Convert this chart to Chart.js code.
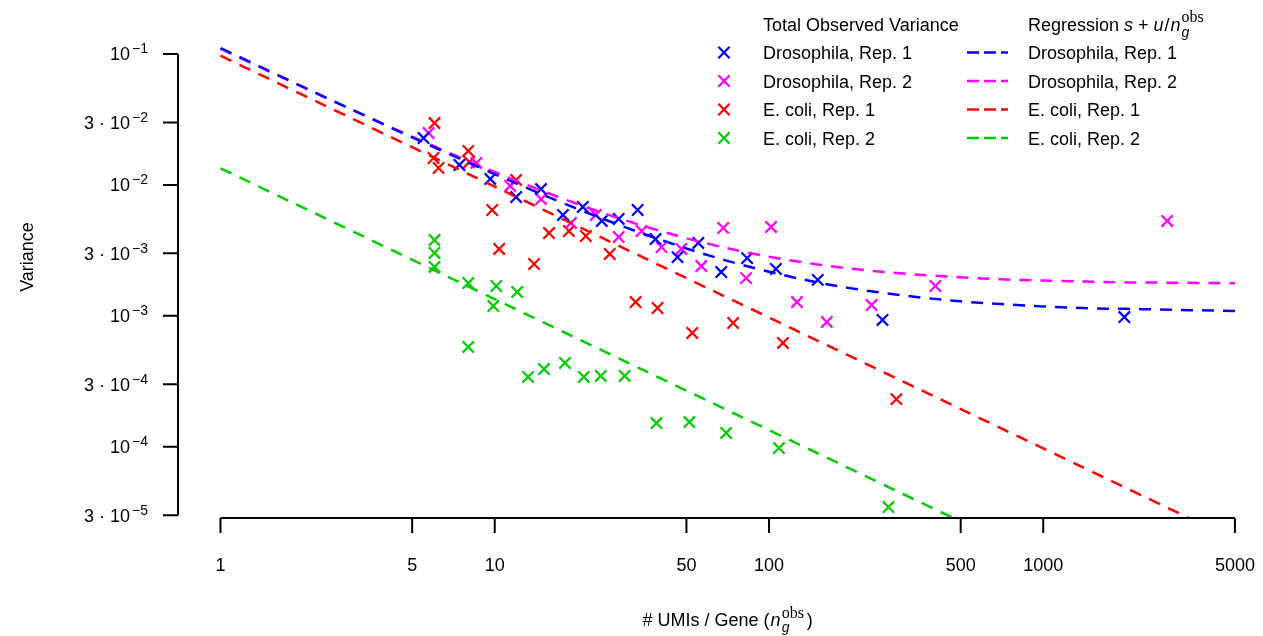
<!DOCTYPE html>
<html><head><meta charset="utf-8">
<script src="https://cdn.jsdelivr.net/npm/chart.js@4.4.1/dist/chart.umd.min.js"></script>
<style>html,body{margin:0;padding:0;background:#fff;}canvas{display:block;}</style>
</head><body>
<canvas id="c" width="1263" height="636"></canvas>
<script>
// ---- observed variance ----
const droso1N = [5.50, 7.43, 9.63, 11.97, 14.75, 17.73, 20.95, 24.56, 28.31, 33.19, 38.57, 46.37, 55.25, 66.96, 83.2, 106.0, 150.6, 259.3, 1976];
const droso1V = [0.0228, 0.0142, 0.0111, 0.00808, 0.0093, 0.00589, 0.00678, 0.0053, 0.00549, 0.00643, 0.00386, 0.00281, 0.0036, 0.00216, 0.00276, 0.00228, 0.00188, 0.000929, 0.000979];
const droso2N = [5.74, 8.57, 11.38, 14.75, 18.95, 23.35, 28.31, 34.31, 40.55, 47.92, 56.65, 68.08, 82.5, 101.7, 126.4, 162.4, 236.5, 403.9, 2831];
const droso2V = [0.0249, 0.0147, 0.00981, 0.0078, 0.00512, 0.00589, 0.004, 0.00444, 0.00335, 0.00324, 0.0024, 0.00469, 0.00194, 0.00477, 0.001274, 0.000897, 0.001209, 0.001689, 0.0053];
const ecoli1N = [6.03, 5.98, 6.24, 8.01, 8.08, 11.97, 9.79, 10.38, 13.91, 15.77, 18.64, 21.48, 26.26, 32.63, 39.22, 52.54, 74.0, 112.4, 291.4];
const ecoli1V = [0.0297, 0.01605, 0.01346, 0.01816, 0.01496, 0.0109, 0.00643, 0.00324, 0.002487, 0.00429, 0.00444, 0.00407, 0.002966, 0.001274, 0.001147, 0.000739, 0.000881, 0.00062, 0.000231];
const ecoli2N = [6.03, 6.03, 6.03, 8.01, 8.01, 10.13, 9.88, 12.07, 13.23, 15.12, 18.03, 21.13, 24.35, 29.77, 38.89, 51.24, 69.81, 108.7, 272.7];
const ecoli2V = [0.00379, 0.00302, 0.00236, 0.00178, 0.000578, 0.001689, 0.001188, 0.00152, 0.000341, 0.000392, 0.000436, 0.000341, 0.000347, 0.000347, 0.0001517, 0.0001544, 0.0001273, 0.0000977, 0.0000346];

// ---- regression curves ----
const regN = [1, 2, 3, 5, 7, 10, 15, 20, 30, 50, 70, 100, 150, 200, 300, 500, 700, 1000, 1500, 2000, 3000, 5000];
const regDroso1 = [0.1111, 0.05607, 0.03774, 0.02307, 0.01678, 0.01207, 0.0084, 0.00657, 0.00474, 0.00327, 0.00264, 0.00217, 0.0018, 0.00162, 0.00144, 0.00129, 0.00123, 0.00118, 0.00114, 0.00113, 0.00111, 0.00109];
const regDroso2 = [0.10975, 0.05575, 0.03775, 0.02335, 0.01718, 0.01255, 0.00895, 0.00715, 0.00535, 0.00391, 0.00329, 0.00283, 0.00247, 0.00229, 0.00211, 0.00197, 0.0019, 0.00186, 0.00182, 0.0018, 0.00179, 0.00177];
const regEcoli1 = [0.097, 0.0485, 0.03233, 0.0194, 0.01386, 0.0097, 0.006467, 0.00485, 0.003233, 0.00194, 0.001386, 0.00097, 0.0006467, 0.000485, 0.0003233, 0.000194, 0.0001386, 0.000097, 0.00006467, 0.0000485, 0.00003233, 0.0000194];
const regEcoli2 = [0.0134, 0.0067, 0.004467, 0.00268, 0.001914, 0.00134, 0.000893, 0.00067, 0.0004467, 0.000268, 0.0001914, 0.000134, 0.0000893, 0.000067, 0.00004467, 0.0000268, 0.00001914, 0.0000134, 0.00000893, 0.0000067, 0.000004467, 0.00000268];

// ---- ticks ----
const xTicks = [1, 5, 10, 50, 100, 500, 1000, 5000];
const xTickLabels = ['1', '5', '10', '50', '100', '500', '1000', '5000'];
const yTicks = [1e-1, 3e-2, 1e-2, 3e-3, 1e-3, 3e-4, 1e-4, 3e-5];
const yTickMant = ['', '3', '', '3', '', '3', '', '3'];
const yTickExp = ['\u22121', '\u22122', '\u22122', '\u22123', '\u22123', '\u22124', '\u22124', '\u22125'];

const seriesNames = ['Drosophila, Rep. 1', 'Drosophila, Rep. 2', 'E. coli, Rep. 1', 'E. coli, Rep. 2'];
const colors = ['#0000FF', '#FF00FF', '#FF0000', '#00CD00'];

const SANS = '"Liberation Sans", Arial, Helvetica, sans-serif';
const SERIF = '"Liberation Serif", "DejaVu Serif", serif';
const BASE = '18px ' + SANS;
const SUP = '14px ' + SANS;

const pts = (xs, ys) => xs.map((x, i) => ({x: x, y: ys[i]}));
const obsSets = [[droso1N, droso1V], [droso2N, droso2V], [ecoli1N, ecoli1V], [ecoli2N, ecoli2V]];
const regSets = [regDroso1, regDroso2, regEcoli1, regEcoli2];

const datasets = [];
regSets.forEach((r, i) => datasets.push({
  label: 'Regression ' + seriesNames[i], data: pts(regN, r), showLine: true,
  borderColor: colors[i], borderWidth: 2.5, borderDash: [12, 9], pointRadius: 0,
  fill: false, cubicInterpolationMode: 'monotone'
}));
obsSets.forEach((s, i) => datasets.push({
  label: seriesNames[i], data: pts(s[0], s[1]), showLine: false,
  pointStyle: 'crossRot', pointRadius: 8, pointBorderWidth: 2.2,
  borderColor: colors[i], backgroundColor: colors[i]
}));

function drawParts(ctx, parts, x, y, align) {
  let w = 0;
  parts.forEach(p => { ctx.font = p.f; p.w = ctx.measureText(p.t).width + (p.dx || 0); if (!p.na) w += p.w; });
  let cx = align === 'right' ? x - w : (align === 'center' ? x - w / 2 : x);
  ctx.textAlign = 'left'; ctx.textBaseline = 'alphabetic';
  parts.forEach(p => { ctx.font = p.f; ctx.fillText(p.t, cx + (p.dx || 0), y + (p.dy || 0)); if (!p.na) cx += p.w; });
}

const decor = {
  id: 'decor',
  afterDraw(chart) {
    const ctx = chart.ctx, xs = chart.scales.x, ys = chart.scales.y, ca = chart.chartArea;
    ctx.save();
    ctx.strokeStyle = '#000'; ctx.fillStyle = '#000'; ctx.lineWidth = 2; ctx.setLineDash([]);
    // y axis
    const ax = ca.left;
    ctx.beginPath();
    ctx.moveTo(ax, ys.getPixelForValue(yTicks[0]));
    ctx.lineTo(ax, ys.getPixelForValue(yTicks[yTicks.length - 1]));
    yTicks.forEach(v => { const p = ys.getPixelForValue(v); ctx.moveTo(ax - 15, p); ctx.lineTo(ax, p); });
    ctx.stroke();
    yTicks.forEach((v, i) => {
      const p = ys.getPixelForValue(v);
      const parts = [];
      if (yTickMant[i]) parts.push({t: yTickMant[i] + ' \u00B7 ', f: BASE, dx: 1});
      parts.push({t: '10', f: BASE});
      parts.push({t: yTickExp[i], f: SUP, dy: -7, dx: 2});
      drawParts(ctx, parts, 148, p + 6.5, 'right');
    });
    // x axis
    const ay = ca.bottom + 1;
    ctx.beginPath();
    ctx.moveTo(xs.getPixelForValue(xTicks[0]), ay);
    ctx.lineTo(xs.getPixelForValue(xTicks[xTicks.length - 1]), ay);
    xTicks.forEach(v => { const p = xs.getPixelForValue(v); ctx.moveTo(p, ay); ctx.lineTo(p, ay + 15); });
    ctx.stroke();
    ctx.font = BASE; ctx.textAlign = 'center'; ctx.textBaseline = 'alphabetic';
    xTicks.forEach((v, i) => ctx.fillText(xTickLabels[i], xs.getPixelForValue(v), 571));
    // x title
    const xc = (xs.getPixelForValue(xTicks[0]) + xs.getPixelForValue(xTicks[xTicks.length - 1])) / 2;
    drawParts(ctx, [
      {t: '# UMIs / Gene (', f: BASE},
      {t: 'n', f: 'italic ' + BASE, dx: 1},
      {t: 'g', f: 'italic ' + SUP, dy: 6, na: true, dx: 1},
      {t: 'obs', f: '16px ' + SERIF, dy: -8, dx: 1},
      {t: ')', f: BASE, dx: 3}
    ], xc, 626, 'center');
    // y title
    ctx.save();
    ctx.translate(33, 257); ctx.rotate(-Math.PI / 2);
    ctx.font = BASE; ctx.textAlign = 'center'; ctx.textBaseline = 'alphabetic';
    ctx.fillText('Variance', 0, 0);
    ctx.restore();
    // legend
    ctx.font = BASE; ctx.textAlign = 'left';
    ctx.fillText('Total Observed Variance', 763, 31);
    drawParts(ctx, [
      {t: 'Regression ', f: BASE},
      {t: 's', f: 'italic ' + BASE},
      {t: ' + ', f: BASE},
      {t: 'u', f: 'italic ' + BASE},
      {t: '/', f: BASE, dx: 1},
      {t: 'n', f: 'italic ' + BASE, dx: 1},
      {t: 'g', f: 'italic ' + SUP, dy: 6, na: true, dx: 1},
      {t: 'obs', f: '16px ' + SERIF, dy: -9, dx: 1}
    ], 1028, 31, 'left');
    const rows = [52.5, 81, 109.5, 138];
    rows.forEach((ry, i) => {
      ctx.strokeStyle = colors[i]; ctx.lineWidth = 2.2; ctx.setLineDash([]);
      const r = 8 * 0.7071;
      ctx.beginPath();
      ctx.moveTo(724 - r, ry - r); ctx.lineTo(724 + r, ry + r);
      ctx.moveTo(724 - r, ry + r); ctx.lineTo(724 + r, ry - r);
      ctx.stroke();
      ctx.lineWidth = 2.5; ctx.setLineDash([12, 5]);
      ctx.beginPath(); ctx.moveTo(967, ry); ctx.lineTo(1008, ry); ctx.stroke();
      ctx.setLineDash([]);
      ctx.fillStyle = '#000'; ctx.font = BASE;
      ctx.fillText(seriesNames[i], 763, ry + 6.5);
      ctx.fillText(seriesNames[i], 1028, ry + 6.5);
    });
    ctx.restore();
  }
};

new Chart(document.getElementById('c'), {
  type: 'scatter',
  data: {datasets: datasets},
  options: {
    responsive: false, animation: false, devicePixelRatio: 1,
    layout: {padding: {left: 178, right: 8, top: 35, bottom: 119}},
    plugins: {legend: {display: false}, tooltip: {enabled: false}},
    events: [],
    scales: {
      x: {type: 'logarithmic', display: false, min: 0.7157, max: 5808.6},
      y: {type: 'logarithmic', display: false, min: 2.904e-5, max: 0.13966}
    }
  },
  plugins: [decor]
});
</script>
</body></html>
